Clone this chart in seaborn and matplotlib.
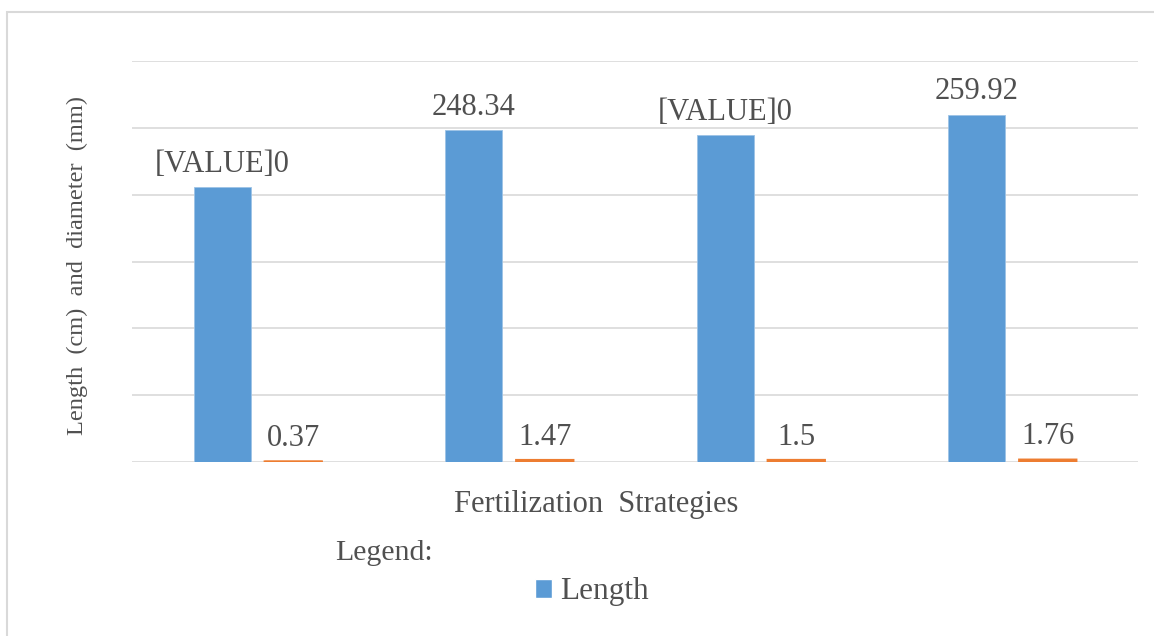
import matplotlib
matplotlib.use("Agg")
import matplotlib.pyplot as plt
from matplotlib.patches import Rectangle, Patch
import seaborn as sns
import pandas as pd

# Fertilization strategies (category names are not printed on the axis)
strategies = ["S1", "S2", "S3", "S4"]
length_cm = [205.7, 248.34, 244.6, 259.92]
diameter_mm = [0.37, 1.47, 1.50, 1.76]
# Bar labels; None means "print the bar's value"
length_labels = ["[VALUE]0", None, "[VALUE]0", None]
diameter_labels = [None, None, None, None]
series_names = ["Length", "Diameter"]
y_ticks = [0, 50, 100, 150, 200, 250, 300]

BLUE = "#5B9BD5"
ORANGE = "#ED7D31"
GRID = "#D9D9D9"
TEXT = "#505050"

df = pd.DataFrame({
    "Strategy": strategies * 2,
    "Series": [series_names[0]] * 4 + [series_names[1]] * 4,
    "Value": length_cm + diameter_mm,
})

sns.set_theme(style="white")
plt.rcParams["font.family"] = ["Liberation Serif", "DejaVu Serif"]

fig = plt.figure(figsize=(11.54, 6.36), dpi=100)
ax = fig.add_axes([132 / 1154, 1 - 462 / 636, (1138 - 132) / 1154, (462 - 61) / 636])

sns.barplot(data=df, x="Strategy", y="Value", hue="Series",
            hue_order=series_names, order=strategies,
            palette=[BLUE, ORANGE], width=0.565, gap=0.196,
            saturation=1, legend=False, ax=ax, errorbar=None)

containers = ax.containers
# the thin diameter bars get an outline so they remain visible
for p in containers[1]:
    p.set_edgecolor(ORANGE)
    p.set_linewidth(1.6)
    p.set_snap(False)
    p.set_zorder(3)
for p in containers[0]:
    p.set_edgecolor("#9DC3E6")
    p.set_linewidth(0.6)

def fmt(values, overrides):
    return [o if o is not None else f"{v:g}" for v, o in zip(values, overrides)]

ax.bar_label(containers[0], labels=fmt(length_cm, length_labels), padding=6,
             fontsize=22, color=TEXT)
ax.bar_label(containers[1], labels=fmt(diameter_mm, diameter_labels), padding=6,
             fontsize=22, color=TEXT)

ax.set_ylim(0, 300)
ax.set_yticks(y_ticks)
ax.set_xlim(-0.5, 3.5)
ax.tick_params(axis="both", length=0, labelleft=False, labelbottom=False)
ax.yaxis.grid(True, color=GRID, linewidth=1.2)
ax.xaxis.grid(False)
ax.set_axisbelow(True)
for s in ax.spines.values():
    s.set_visible(False)

ax.set_ylabel("Length  (cm)  and  diameter  (mm)", fontsize=17.6, color=TEXT)
ax.yaxis.set_label_coords(-0.0437, 0.49)
ax.set_xlabel("Fertilization  Strategies", fontsize=22, color=TEXT)
ax.xaxis.set_label_coords(0.461, -0.107)
ax.xaxis.label.set_va("center")

fig.text(384 / 1154, 1 - 553 / 636, "Legend:", fontsize=21.5, color=TEXT,
         ha="center", va="center")
ax.legend(handles=[Patch(facecolor=BLUE, label=series_names[0])],
          loc="center", bbox_to_anchor=(592 / 1154, 1 - 592 / 636),
          bbox_transform=fig.transFigure, frameon=False, fontsize=22.5,
          labelcolor=TEXT, handlelength=0.55, handleheight=0.55,
          handletextpad=0.25, borderpad=0)

# chart frame
fig.patches.append(Rectangle((7 / 1154, -0.05), 1.2, 0.05 + 1 - 12 / 636,
                             transform=fig.transFigure, fill=False,
                             edgecolor=GRID, linewidth=1.5, zorder=0))

fig.savefig("out.png", dpi=100)
